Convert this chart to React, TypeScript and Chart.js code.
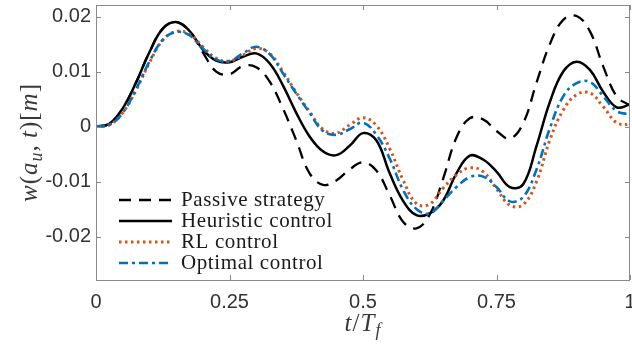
import React, { useEffect, useRef } from 'react';
import { Chart, registerables } from 'chart.js';

Chart.register(...registerables);

const tValues = [0, 0.025, 0.05, 0.075, 0.1, 0.125, 0.15, 0.175, 0.2, 0.225, 0.25, 0.275, 0.3, 0.325, 0.35, 0.375, 0.4, 0.425, 0.45, 0.475, 0.5, 0.525, 0.55, 0.575, 0.6, 0.625, 0.65, 0.675, 0.7, 0.725, 0.75, 0.775, 0.8, 0.825, 0.85, 0.875, 0.9, 0.925, 0.95, 0.975, 1];

const passive = [0, 0.0005, 0.0033, 0.008, 0.0135, 0.0178, 0.019, 0.0174, 0.0135, 0.01, 0.0095, 0.011, 0.0108, 0.0082, 0.0033, -0.0025, -0.0085, -0.0106, -0.0098, -0.0078, -0.0065, -0.008, -0.0125, -0.0173, -0.0185, -0.016, -0.0095, -0.002, 0.0015, 0.0013, -0.0008, -0.0022, 0.0006, 0.008, 0.015, 0.0194, 0.0201, 0.0173, 0.0109, 0.0055, 0.0038];

const heuristic = [0, 0.0005, 0.0033, 0.008, 0.0135, 0.0178, 0.019, 0.0174, 0.014, 0.012, 0.0117, 0.0127, 0.0133, 0.0115, 0.0075, 0.0025, -0.0018, -0.0045, -0.0052, -0.0035, -0.0012, -0.0025, -0.0085, -0.0135, -0.0161, -0.0158, -0.0135, -0.0085, -0.0053, -0.006, -0.0082, -0.011, -0.0105, -0.0035, 0.0045, 0.01, 0.0118, 0.0103, 0.0063, 0.0035, 0.004];

const rlControl = [0, 0.0003, 0.0025, 0.0066, 0.0116, 0.0157, 0.0173, 0.0168, 0.0145, 0.0124, 0.0119, 0.013, 0.0142, 0.0133, 0.01, 0.0062, 0.0027, -0.0005, -0.0012, 0.0003, 0.0016, 0.0002, -0.004, -0.0097, -0.014, -0.0141, -0.0112, -0.0088, -0.0075, -0.0082, -0.0113, -0.0143, -0.0142, -0.01, -0.0024, 0.003, 0.0058, 0.0061, 0.0036, 0.0007, 0.0003];

const optimal = [0, 0.0003, 0.0025, 0.0068, 0.0118, 0.0158, 0.0172, 0.0166, 0.0142, 0.0122, 0.0119, 0.0133, 0.0145, 0.0132, 0.0097, 0.006, 0.0025, -0.0008, -0.0015, -0.0005, 0.0007, -0.0015, -0.0058, -0.0115, -0.015, -0.0158, -0.0135, -0.011, -0.0092, -0.0091, -0.011, -0.0136, -0.0128, -0.0078, -0.0003, 0.0055, 0.0079, 0.0081, 0.0055, 0.0028, 0.0022];

const seriesLabels = ['Passive strategy', 'Heuristic control', 'RL control', 'Optimal control'];
const xTicks = [0, 0.25, 0.5, 0.75, 1];
const xTickLabels = ['0', '0.25', '0.5', '0.75', '1'];
const yTicks = [-0.02, -0.01, 0, 0.01, 0.02];
const yTickLabels = ['-0.02', '-0.01', '0', '0.01', '0.02'];

type Piece = { text: string; italic?: boolean; sub?: boolean };

const yTitle: Piece[] = [
  { text: 'w', italic: true },
  { text: '(' },
  { text: 'a', italic: true },
  { text: 'u', italic: true, sub: true },
  { text: ', ' },
  { text: 't', italic: true },
  { text: ')' },
  { text: '[' },
  { text: 'm', italic: true },
  { text: ']' },
];
const xTitle: Piece[] = [
  { text: 't', italic: true },
  { text: '/' },
  { text: 'T', italic: true },
  { text: 'f', italic: true, sub: true },
];

function pieceFont(p: Piece, size: number) {
  const s = p.sub ? Math.round(size * 0.7) : size;
  return `${p.italic ? 'italic ' : ''}${s}px "Liberation Serif"`;
}

function drawPieces(ctx: CanvasRenderingContext2D, pieces: Piece[], size: number) {
  let total = 0;
  const widths = pieces.map((p) => {
    ctx.font = pieceFont(p, size);
    const w = ctx.measureText(p.text).width + 1;
    total += w;
    return w;
  });
  let x = -total / 2;
  pieces.forEach((p, i) => {
    ctx.font = pieceFont(p, size);
    ctx.fillText(p.text, x, p.sub ? size * 0.3 : 0);
    x += widths[i];
  });
}

const framePlugin = {
  id: 'framePlugin',
  afterDatasetsDraw(chart: any) {
    const { ctx, chartArea } = chart;
    const xs = chart.scales.x;
    const ys = chart.scales.y;
    const { left, right, top, bottom } = chartArea;
    ctx.save();
    ctx.strokeStyle = '#8a8a8a';
    ctx.lineWidth = 1;
    ctx.strokeRect(left + 0.5, top + 0.5, right - left - 1, bottom - top);
    const tl = 5;
    ctx.beginPath();
    xTicks.forEach((v) => {
      const px = Math.round(xs.getPixelForValue(v)) + 0.5;
      ctx.moveTo(px, bottom);
      ctx.lineTo(px, bottom - tl);
      ctx.moveTo(px, top);
      ctx.lineTo(px, top + tl);
    });
    yTicks.forEach((v) => {
      const py = Math.round(ys.getPixelForValue(v)) + 0.5;
      ctx.moveTo(left, py);
      ctx.lineTo(left + tl, py);
      ctx.moveTo(right, py);
      ctx.lineTo(right - tl, py);
    });
    ctx.stroke();

    ctx.fillStyle = '#333333';
    ctx.font = '20px "Liberation Sans"';
    ctx.textAlign = 'right';
    ctx.textBaseline = 'middle';
    yTicks.forEach((v, i) => {
      ctx.fillText(yTickLabels[i], left - 5, ys.getPixelForValue(v));
    });
    ctx.textAlign = 'center';
    xTicks.forEach((v, i) => {
      ctx.fillText(xTickLabels[i], xs.getPixelForValue(v), bottom + 22);
    });

    ctx.fillStyle = '#3a3a3a';
    ctx.textAlign = 'left';
    ctx.textBaseline = 'middle';
    ctx.save();
    ctx.translate((left + right) / 2, bottom + 44);
    drawPieces(ctx, xTitle, 25);
    ctx.restore();
    ctx.save();
    ctx.translate(30, (top + bottom) / 2);
    ctx.rotate(-Math.PI / 2);
    drawPieces(ctx, yTitle, 25);
    ctx.restore();
    ctx.restore();
  },
  afterDraw(chart: any) {
    const { ctx } = chart;
    ctx.save();
    chart.data.datasets.forEach((ds: any, i: number) => {
      const y = 200 + i * 21;
      ctx.beginPath();
      ctx.strokeStyle = ds.borderColor;
      ctx.lineWidth = ds.borderWidth;
      ctx.setLineDash(ds.borderDash || []);
      ctx.moveTo(119, y);
      ctx.lineTo(172, y);
      ctx.stroke();
      ctx.setLineDash([]);
      ctx.fillStyle = '#1a1a1a';
      ctx.font = '21px "Liberation Serif"';
      (ctx as any).letterSpacing = '0.6px';
      ctx.textAlign = 'left';
      ctx.textBaseline = 'middle';
      ctx.fillText(ds.label, 181, y);
      (ctx as any).letterSpacing = '0px';
    });
    ctx.restore();
  },
};

export default function App() {
  const ref = useRef<HTMLCanvasElement | null>(null);
  useEffect(() => {
    if (!ref.current) return;
    const mk = (vals: number[]) => vals.map((v, i) => ({ x: tValues[i], y: v }));
    const chart = new Chart(ref.current, {
      type: 'line',
      data: {
        datasets: [
          { label: seriesLabels[0], data: mk(passive), borderColor: '#000000', borderWidth: 2.3, borderDash: [12, 8], order: 4 },
          { label: seriesLabels[1], data: mk(heuristic), borderColor: '#000000', borderWidth: 2.5, order: 3 },
          { label: seriesLabels[2], data: mk(rlControl), borderColor: '#D95319', borderWidth: 3, borderDash: [2.5, 3.5], order: 2 },
          { label: seriesLabels[3], data: mk(optimal), borderColor: '#0072BD', borderWidth: 2.6, borderDash: [9, 4, 3, 4], order: 1 },
        ] as any,
      },
      options: {
        responsive: false,
        animation: false,
        layout: { padding: { left: 96, right: 2, top: 5, bottom: 65 } },
        elements: { point: { radius: 0 }, line: { tension: 0.4, fill: false } },
        plugins: { legend: { display: false }, tooltip: { enabled: false } },
        scales: {
          x: { type: 'linear', min: 0, max: 1, display: false },
          y: { type: 'linear', min: -0.0279, max: 0.0221, display: false },
        },
      },
      plugins: [framePlugin],
    });
    return () => chart.destroy();
  }, []);
  return (
    <div style={{ position: 'fixed', left: 0, top: 0, width: 632, height: 345, background: '#fff' }}>
      <canvas ref={ref} width={632} height={345} style={{ display: 'block' }} />
    </div>
  );
}
